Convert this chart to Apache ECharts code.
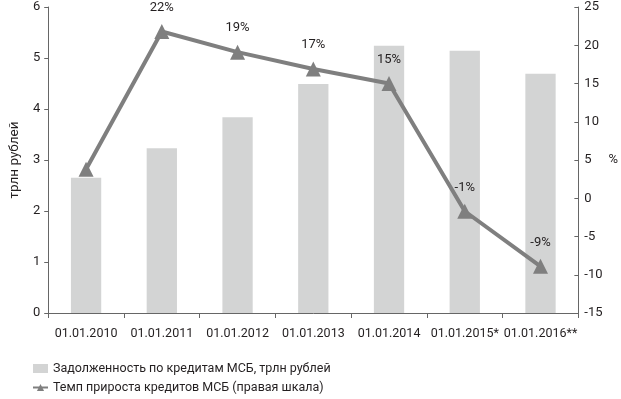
<!DOCTYPE html>
<html>
<head>
<meta charset="utf-8">
<script src="https://cdn.jsdelivr.net/npm/echarts@6/dist/echarts.min.js"></script>
<style>
  html, body { margin: 0; padding: 0; background: #fff; }
  #chart { width: 621px; height: 399px; }
</style>
</head>
<body>
<div id="chart"></div>
<script>
const categories = ['01.01.2010', '01.01.2011', '01.01.2012', '01.01.2013', '01.01.2014', '01.01.2015*', '01.01.2016**'];
const debtValues = [2.65, 3.23, 3.84, 4.49, 5.24, 5.14, 4.69];      // трлн рублей
const growthValues = [3.8, 21.8, 19.1, 16.9, 15.0, -1.7, -8.9];     // %
const growthLabels = ['', '22%', '19%', '17%', '15%', '-1%', '-9%'];

const barName = 'Задолженность по кредитам МСБ, трлн рублей';
const lineName = 'Темп прироста кредитов МСБ (правая шкала)';

const font = 'Roboto, "Liberation Sans", sans-serif';
const textColor = '#231f20';
const axisColor = '#666';

const chart = echarts.init(document.getElementById('chart'));

const option = {
    backgroundColor: '#fff',
    animation: false,
    textStyle: { fontFamily: font },
    grid: { left: 36, right: 35, top: 7, bottom: 86, containLabel: false },
    legend: {
        orient: 'vertical',
        left: 27,
        top: 357,
        itemGap: 6,
        itemWidth: 15,
        itemHeight: 9,
        textStyle: { fontFamily: font, fontSize: 12.5, color: textColor },
        data: [
            { name: barName, icon: 'rect' },
            { name: lineName }
        ]
    },
    xAxis: {
        type: 'category',
        data: categories,
        axisLine: { lineStyle: { color: axisColor, width: 1 } },
        axisTick: { show: true, length: 5, lineStyle: { color: axisColor } },
        axisLabel: { interval: 0, fontFamily: font, fontSize: 12.5, color: textColor, margin: 14 }
    },
    yAxis: [{
        type: 'value',
        min: 0, max: 6, interval: 1,
        name: 'трлн рублей',
        nameLocation: 'middle',
        nameGap: 20,
        nameRotate: 90,
        nameTextStyle: { fontFamily: font, fontSize: 13.5, color: textColor },
        axisLine: { show: true, lineStyle: { color: axisColor } },
        axisTick: { show: true, length: 4, lineStyle: { color: axisColor } },
        axisLabel: { fontFamily: font, fontSize: 13, color: textColor, margin: 8 },
        splitLine: { show: false }
    }, {
        type: 'value',
        position: 'right',
        min: -15, max: 25, interval: 5,
        name: '%',
        nameLocation: 'middle',
        nameGap: 28,
        nameRotate: 0,
        nameTextStyle: { fontFamily: font, fontSize: 13, color: textColor },
        axisLine: { show: true, lineStyle: { color: axisColor } },
        axisTick: { show: true, inside: true, length: 4, lineStyle: { color: axisColor } },
        axisLabel: { fontFamily: font, fontSize: 13, color: textColor, margin: 6 },
        splitLine: { show: false }
    }],
    series: [{
        name: barName,
        type: 'bar',
        data: debtValues,
        barWidth: '40%',
        itemStyle: { color: '#d3d4d4' }
    }, {
        name: lineName,
        type: 'line',
        yAxisIndex: 1,
        data: growthValues,
        symbol: 'triangle',
        symbolSize: 15,
        lineStyle: { color: '#7f7f7f', width: 4 },
        itemStyle: { color: '#7f7f7f' },
        label: {
            show: true,
            position: 'top',
            distance: 10,
            fontFamily: font,
            fontSize: 13,
            color: textColor,
            formatter: function (p) { return growthLabels[p.dataIndex]; }
        }
    }]
};

chart.setOption(option);
</script>
</body>
</html>
